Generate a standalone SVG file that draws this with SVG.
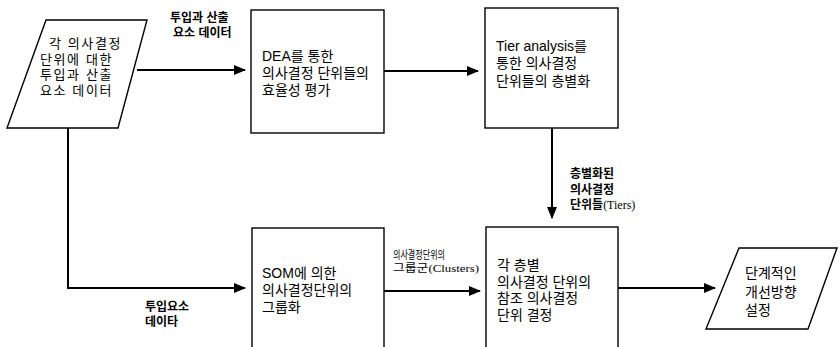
<svg xmlns="http://www.w3.org/2000/svg" width="839" height="347" viewBox="0 0 839 347">
<style>
.shape{fill:#fff;stroke:#000;stroke-width:1.4}
.t{font-family:"Liberation Sans","Noto Sans CJK KR",sans-serif;font-size:14px;fill:#000}
.tl{font-family:"Liberation Sans","Noto Sans CJK KR",sans-serif;font-size:13px;letter-spacing:1.6px;fill:#000}
.lb{font-family:"Liberation Sans","Noto Sans CJK KR",sans-serif;font-size:12px;font-weight:bold;fill:#000}
.ls{font-family:"Liberation Sans","Noto Sans CJK KR",sans-serif;font-size:11px;fill:#000}
.serif{font-family:"Liberation Serif",serif}
.c{fill:none;stroke:#000;stroke-width:2}
</style>
<defs>
<marker id="ah" markerWidth="12" markerHeight="10" refX="11" refY="5" orient="auto" markerUnits="userSpaceOnUse">
<path d="M0,0 L12,5 L0,10 Z" fill="#000"/>
</marker>
</defs>
<g id="connectors">
<line class="c" x1="137" y1="70" x2="245" y2="70" marker-end="url(#ah)"/>
<line class="c" x1="384" y1="71" x2="478" y2="71" marker-end="url(#ah)"/>
<line class="c" x1="552" y1="128" x2="552" y2="218" marker-end="url(#ah)"/>
<polyline class="c" points="68,128 68,288 245,288" marker-end="url(#ah)"/>
<line class="c" x1="384" y1="291" x2="480" y2="291" marker-end="url(#ah)"/>
<line class="c" x1="618" y1="288" x2="715" y2="288" marker-end="url(#ah)"/>
<text class="lb" x="170" y="22">투입과 산출</text>
<text class="lb" x="173" y="37">요소 데이터</text>
<text class="lb" x="145" y="311">투입요소</text>
<text class="lb" x="145" y="326">데이타</text>
<text class="lb" x="570" y="178">층별화된</text>
<text class="lb" x="570" y="194">의사결정</text>
<text class="lb" x="570" y="209">단위들<tspan class="serif" font-weight="normal">(Tiers)</tspan></text>
<text class="ls" x="393" y="259" textLength="52" lengthAdjust="spacingAndGlyphs">의사결정단위의</text>
<text class="ls" x="393" y="272" textLength="86" lengthAdjust="spacingAndGlyphs">그룹군<tspan class="serif">(Clusters)</tspan></text>
</g>
<g id="n_input">
<polygon class="shape" points="46,20 147,20 118,128 7,128"/>
<text class="tl" x="49" y="48">각 의사결정</text>
<text class="tl" x="40" y="64">단위에 대한</text>
<text class="tl" x="40" y="79">투입과 산출</text>
<text class="tl" x="40" y="95">요소 데이터</text>
</g>
<g id="n_dea">
<rect class="shape" x="251" y="10" width="133" height="123"/>
<text class="t" x="262" y="61">DEA를 통한</text>
<text class="t" x="262" y="78">의사결정 단위들의</text>
<text class="t" x="262" y="95">효율성 평가</text>
</g>
<g id="n_tier">
<rect class="shape" x="485" y="8" width="133" height="120"/>
<text class="t" x="496" y="51">Tier analysis를</text>
<text class="t" x="496" y="68">통한 의사결정</text>
<text class="t" x="496" y="86">단위들의 층별화</text>
</g>
<g id="n_som">
<rect class="shape" x="252" y="228" width="132" height="125"/>
<text class="t" x="262" y="278">SOM에 의한</text>
<text class="t" x="262" y="295">의사결정단위의</text>
<text class="t" x="262" y="312">그룹화</text>
</g>
<g id="n_ref">
<rect class="shape" x="486" y="227" width="132" height="126"/>
<text class="t" x="497" y="270">각 층별</text>
<text class="t" x="497" y="287">의사결정 단위의</text>
<text class="t" x="497" y="303">참조 의사결정</text>
<text class="t" x="497" y="320">단위 결정</text>
</g>
<g id="n_out">
<polygon class="shape" points="739,248 837,248 808,329 706,329"/>
<text class="t" x="745" y="278">단계적인</text>
<text class="t" x="745" y="297">개선방향</text>
<text class="t" x="745" y="315">설정</text>
</g>
</svg>
